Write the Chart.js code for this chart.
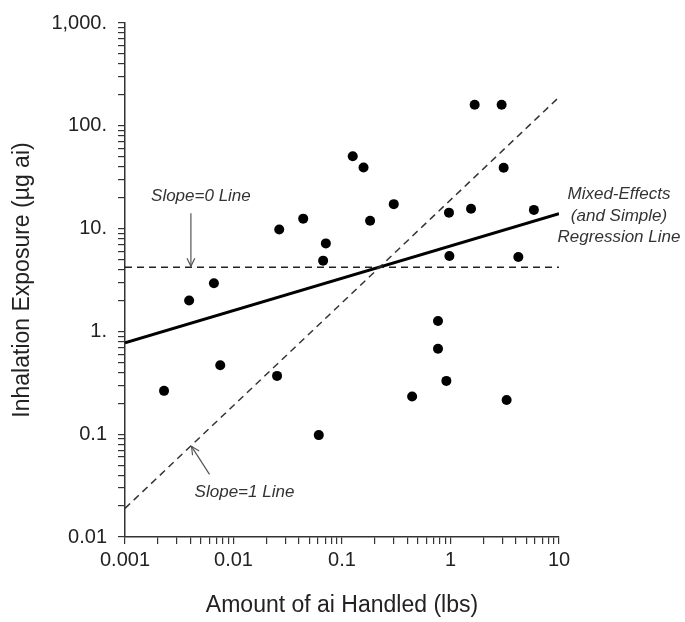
<!DOCTYPE html>
<html>
<head>
<meta charset="utf-8">
<script src="https://cdn.jsdelivr.net/npm/chart.js@4"></script>
<style>
  html, body { margin: 0; padding: 0; background: #fff; }
  #wrap { width: 685px; height: 622px; }
</style>
</head>
<body>
<div id="wrap"><canvas id="chart" width="685" height="622"></canvas></div>
<script>
// ---- Data ----
const AMOUNT = [0.00229, 0.0039, 0.0066, 0.00755, 0.0252, 0.0264, 0.0439, 0.0611, 0.067, 0.071,
  0.1256, 0.158, 0.1815, 0.300, 0.443, 0.767, 0.767, 0.916, 0.968, 0.977,
  1.546, 1.67, 2.96, 3.09, 3.29, 4.22, 5.87];
const EXPOSURE = [0.264, 2.0, 2.94, 0.468, 0.369, 9.8, 12.5, 0.098, 4.88, 7.18,
  50.6, 39.3, 11.9, 17.3, 0.233, 1.26, 0.677, 0.330, 14.3, 5.42,
  15.6, 160, 160, 39.0, 0.215, 5.3, 15.2];

// reference lines (two end points each)
const LINE_X = [0.001, 10];
const REGRESSION_Y = [0.774, 14.0];
const SLOPE0_Y = [4.2, 4.2];
const SLOPE1_Y = [0.019, 190];

// axis ticks
const X_TICKS = [0.001, 0.01, 0.1, 1, 10];
const X_TICK_LABELS = ["0.001", "0.01", "0.1", "1", "10"];
const Y_TICKS = [0.01, 0.1, 1, 10, 100, 1000];
const Y_TICK_LABELS = ["0.01", "0.1", "1.", "10.", "100.", "1,000."];

// annotation anchors (data space)
const SLOPE0_ARROW_X = 0.00405;
const SLOPE1_ARROW_X = 0.0041;

const FONT = "'Liberation Sans', Arial, sans-serif";
const INK = "#222";

const pairs = (xs, ys) => xs.map((x, i) => ({ x, y: ys[i] }));

// all 1..9 x 10^n positions between min and max (minor tick marks)
function logTicks(min, max) {
  const out = [];
  for (let e = Math.floor(Math.log10(min)); e <= Math.ceil(Math.log10(max)); e++) {
    for (let k = 1; k <= 9; k++) {
      const v = Number((k * Math.pow(10, e)).toPrecision(6));
      if (v >= min - 1e-12 && v <= max + 1e-9) out.push({ value: v });
    }
  }
  return out;
}

function labelFor(value, ticks, labels) {
  const i = ticks.findIndex(t => Math.abs(t - value) / t < 1e-6);
  return i >= 0 ? labels[i] : "";
}

// ---- Annotations ----
function arrowHead(ctx, tx, ty, fx, fy) {
  const ang = Math.atan2(ty - fy, tx - fx);
  const len = 9, spread = 0.45;
  ctx.beginPath();
  ctx.moveTo(tx - len * Math.cos(ang - spread), ty - len * Math.sin(ang - spread));
  ctx.lineTo(tx, ty);
  ctx.lineTo(tx - len * Math.cos(ang + spread), ty - len * Math.sin(ang + spread));
  ctx.stroke();
}

const annotations = {
  id: "annotations",
  afterDraw(chart) {
    const { ctx, scales: { x, y } } = chart;
    ctx.save();
    ctx.font = "italic 17px " + FONT;
    ctx.fillStyle = "#333";
    ctx.textAlign = "center";
    ctx.textBaseline = "middle";
    ctx.strokeStyle = "#555";
    ctx.lineWidth = 1.2;

    // Slope=0 line
    const ax0 = x.getPixelForValue(SLOPE0_ARROW_X);
    const tip0 = y.getPixelForValue(SLOPE0_Y[0]) - 1;
    ctx.beginPath();
    ctx.moveTo(ax0, tip0 - 53);
    ctx.lineTo(ax0, tip0);
    ctx.stroke();
    arrowHead(ctx, ax0, tip0, ax0, tip0 - 53);
    ctx.fillText("Slope=0 Line", ax0 + 10, tip0 - 70);

    // Slope=1 line
    const slope = (Math.log10(SLOPE1_Y[1]) - Math.log10(SLOPE1_Y[0])) / (Math.log10(LINE_X[1]) - Math.log10(LINE_X[0]));
    const yOn = Math.pow(10, Math.log10(SLOPE1_Y[0]) + slope * (Math.log10(SLOPE1_ARROW_X) - Math.log10(LINE_X[0])));
    const ax1 = x.getPixelForValue(SLOPE1_ARROW_X);
    const tip1 = y.getPixelForValue(yOn) + 1;
    ctx.beginPath();
    ctx.moveTo(ax1 + 18, tip1 + 28);
    ctx.lineTo(ax1, tip1);
    ctx.stroke();
    arrowHead(ctx, ax1, tip1, ax1 + 18, tip1 + 28);
    ctx.fillText("Slope=1 Line", ax1 + 53, tip1 + 46);

    // regression label
    const rx = x.getPixelForValue(LINE_X[1]);
    const ry = y.getPixelForValue(REGRESSION_Y[1]);
    ctx.fillText("Mixed-Effects", rx + 60, ry - 19);
    ctx.fillText("(and Simple)", rx + 60, ry + 3);
    ctx.fillText("Regression Line", rx + 60, ry + 24);
    ctx.restore();
  }
};

// ---- Chart ----
const axisCommon = {
  type: "logarithmic",
  border: { display: true, color: "#333", width: 1.5 },
  grid: { drawOnChartArea: false, drawTicks: true, tickLength: 7, color: "#333", lineWidth: 1.2 },
};

new Chart(document.getElementById("chart"), {
  type: "scatter",
  data: {
    datasets: [
      {
        label: "Regression", data: pairs(LINE_X, REGRESSION_Y), showLine: true,
        borderColor: "#000", borderWidth: 3, pointRadius: 0, order: 3
      },
      {
        label: "Slope=0", data: pairs(LINE_X, SLOPE0_Y), showLine: true,
        borderColor: "#222", borderWidth: 1.5, borderDash: [7, 5], pointRadius: 0, order: 2
      },
      {
        label: "Slope=1", data: pairs(LINE_X, SLOPE1_Y), showLine: true,
        borderColor: "#333", borderWidth: 1.5, borderDash: [7, 5], pointRadius: 0, order: 2
      },
      {
        label: "Observations", data: pairs(AMOUNT, EXPOSURE),
        backgroundColor: "#000", borderColor: "#000", pointRadius: 5, borderWidth: 0, order: 0
      }
    ]
  },
  options: {
    responsive: false,
    animation: false,
    layout: { padding: { left: 0, top: 20, right: 126, bottom: 0 } },
    plugins: { legend: { display: false }, tooltip: { enabled: false } },
    scales: {
      x: {
        ...axisCommon,
        min: 0.001, max: 10,
        afterBuildTicks: s => { s.ticks = logTicks(0.001, 10); },
        afterFit: s => { s.height = 85; },
        ticks: {
          autoSkip: false, maxRotation: 0, padding: 4, color: INK,
          font: { family: FONT, size: 20 },
          callback: v => labelFor(v, X_TICKS, X_TICK_LABELS)
        },
        title: {
          display: true, text: "Amount of ai Handled (lbs)", color: INK,
          font: { family: FONT, size: 23 }, padding: { bottom: 3 }
        }
      },
      y: {
        ...axisCommon,
        min: 0.01, max: 1000,
        afterBuildTicks: s => { s.ticks = logTicks(0.01, 1000); },
        afterFit: s => { s.width = 125; },
        ticks: {
          autoSkip: false, padding: 11, color: INK,
          font: { family: FONT, size: 20 },
          callback: v => labelFor(v, Y_TICKS, Y_TICK_LABELS)
        },
        title: {
          display: true, text: "Inhalation Exposure (µg ai)", color: INK,
          font: { family: FONT, size: 23 }, padding: { top: 9 }
        }
      }
    }
  },
  plugins: [annotations]
});
</script>
</body>
</html>
